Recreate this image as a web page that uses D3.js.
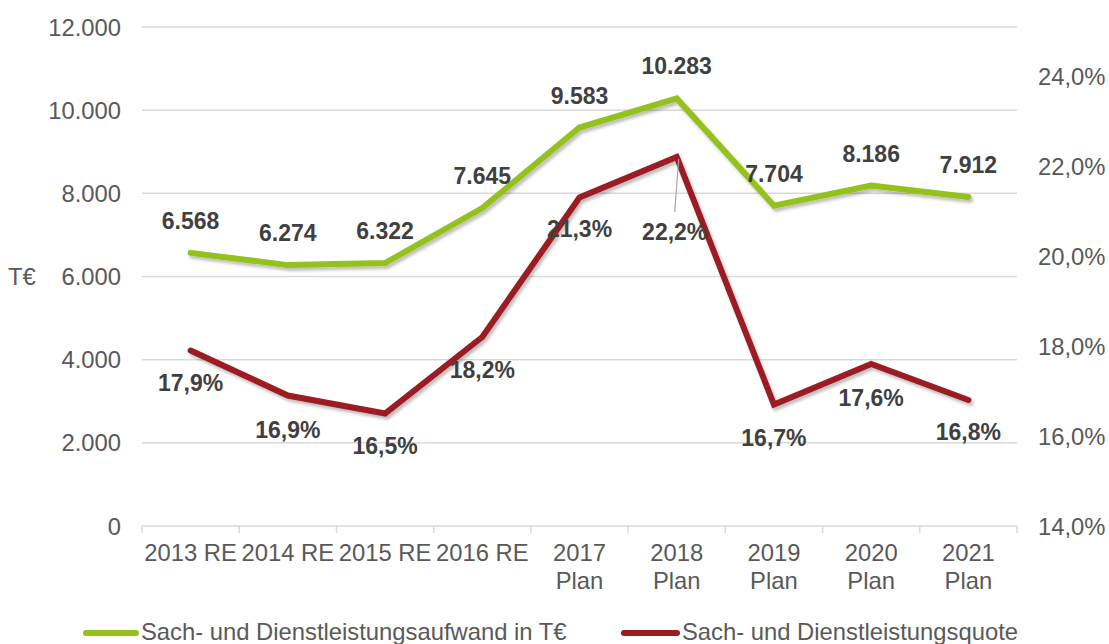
<!DOCTYPE html>
<html><head><meta charset="utf-8">
<script src="https://cdn.jsdelivr.net/npm/d3@7"></script>
<style>body{margin:0;background:#fff}svg{display:block}text{font-family:"Liberation Sans",Arial,sans-serif}</style>
</head><body>
<svg id="c" width="1109" height="644"></svg>
<script>
const categories = [["2013 RE"],["2014 RE"],["2015 RE"],["2016 RE"],["2017","Plan"],["2018","Plan"],["2019","Plan"],["2020","Plan"],["2021","Plan"]];
const aufwand = [6568, 6274, 6322, 7645, 9583, 10283, 7704, 8186, 7912];
const quote = [17.9, 16.9, 16.5, 18.2, 21.3, 22.2, 16.7, 17.6, 16.8];
const leftTicks = [0, 2000, 4000, 6000, 8000, 10000, 12000];
const rightTicks = [14, 16, 18, 20, 22, 24];
const seriesNames = ["Sach- und Dienstleistungsaufwand in T€", "Sach- und Dienstleistungsquote"];
const colors = ["#95c11f", "#9b1b22"];

const svg = d3.select("#c");
const x0 = 142, x1 = 1017, yBottom = 526;
const x = d3.scaleBand().domain(d3.range(categories.length)).range([x0, x1]);
const yL = d3.scaleLinear().domain([0, 12000]).range([yBottom, 27]);
const yR = d3.scaleLinear().domain([14, 24]).range([yBottom, 76]);
const cx = i => x(i) + x.bandwidth() / 2;
const FS = 23.8;

const defs = svg.append("defs");
const f = defs.append("filter").attr("id", "sh").attr("x", "-10%").attr("y", "-10%").attr("width", "120%").attr("height", "130%");
f.append("feDropShadow").attr("dx", 2).attr("dy", 3).attr("stdDeviation", 1.5).attr("flood-color", "#000").attr("flood-opacity", 0.25);

// gridlines
svg.append("g").selectAll("line").data(leftTicks.slice(1)).join("line")
  .attr("x1", x0).attr("x2", x1).attr("y1", d => yL(d)).attr("y2", d => yL(d))
  .attr("stroke", "#d9d9d9").attr("stroke-width", 1.5);

// bottom axis
const gx = svg.append("g").attr("transform", `translate(0,${yBottom})`);
gx.append("line").attr("x1", x0).attr("x2", x1).attr("stroke", "#d9d9d9").attr("stroke-width", 1.5);
gx.selectAll("line.t").data(d3.range(categories.length + 1)).join("line").attr("class", "t")
  .attr("x1", i => x0 + i * x.bandwidth()).attr("x2", i => x0 + i * x.bandwidth())
  .attr("y1", 0).attr("y2", 7).attr("stroke", "#d9d9d9").attr("stroke-width", 1.5);
const lbl = gx.selectAll("text").data(categories).join("text")
  .attr("x", (d, i) => cx(i)).attr("y", 35).attr("text-anchor", "middle")
  .attr("font-size", FS).attr("fill", "#595959");
lbl.selectAll("tspan").data(d => d).join("tspan").attr("x", function(){return this.parentNode.getAttribute("x");})
  .attr("dy", (d, j) => j === 0 ? 0 : 28).text(d => d);

// left axis labels
const fmtL = d => d3.format(",")(d).replace(/,/g, ".");
svg.append("g").selectAll("text").data(leftTicks).join("text")
  .attr("x", 121).attr("y", d => yL(d) + 8.5).attr("text-anchor", "end")
  .attr("font-size", FS).attr("fill", "#595959").text(fmtL);
svg.append("text").attr("x", 8).attr("y", yL(6000) + 8.5).attr("font-size", FS).attr("fill", "#595959").text("T€");

// right axis labels
svg.append("g").selectAll("text").data(rightTicks).join("text")
  .attr("x", 1038).attr("y", d => yR(d) + 8.5).attr("text-anchor", "start")
  .attr("font-size", FS).attr("fill", "#595959").text(d => d.toFixed(1).replace(".", ",") + "%");

// lines
const lineL = d3.line().x((d, i) => cx(i)).y(d => yL(d));
const lineR = d3.line().x((d, i) => cx(i)).y(d => yR(d));
svg.append("path").datum(quote).attr("d", lineR).attr("fill", "none").attr("stroke", colors[1])
  .attr("stroke-width", 6).attr("stroke-linecap", "round").attr("stroke-linejoin", "miter").attr("filter", "url(#sh)");
svg.append("path").datum(aufwand).attr("d", lineL).attr("fill", "none").attr("stroke", colors[0])
  .attr("stroke-width", 6).attr("stroke-linecap", "round").attr("stroke-linejoin", "miter").attr("filter", "url(#sh)");

// leader line for 2018 quote
svg.append("line").attr("x1", cx(5) + 2).attr("y1", yR(quote[5]) + 2).attr("x2", cx(5) - 2).attr("y2", yR(quote[5]) + 55)
  .attr("stroke", "#a6a6a6").attr("stroke-width", 1.2);

// data labels
svg.append("g").selectAll("text").data(aufwand).join("text")
  .attr("x", (d, i) => cx(i)).attr("y", d => yL(d) - 24).attr("text-anchor", "middle")
  .attr("font-size", 23).attr("font-weight", "bold").attr("fill", "#404040").text(fmtL);
const qOff = [40, 42, 40, 41, 39, 83, 41, 42, 40];
svg.append("g").selectAll("text").data(quote).join("text")
  .attr("x", (d, i) => cx(i) - (i === 5 ? 2 : 0)).attr("y", (d, i) => yR(d) + qOff[i]).attr("text-anchor", "middle")
  .attr("font-size", 23).attr("font-weight", "bold").attr("fill", "#404040").text(d => d.toFixed(1).replace(".", ",") + "%");

// legend
const leg = [{x: 86, tx: 141}, {x: 624, tx: 682}];
leg.forEach((l, i) => {
  svg.append("line").attr("x1", l.x).attr("x2", l.tx - 5).attr("y1", 633).attr("y2", 633)
    .attr("stroke", colors[i]).attr("stroke-width", 6).attr("stroke-linecap", "round");
  svg.append("text").attr("x", l.tx).attr("y", 640).attr("font-size", FS).attr("fill", "#595959").text(seriesNames[i]);
});
</script>
</body></html>
